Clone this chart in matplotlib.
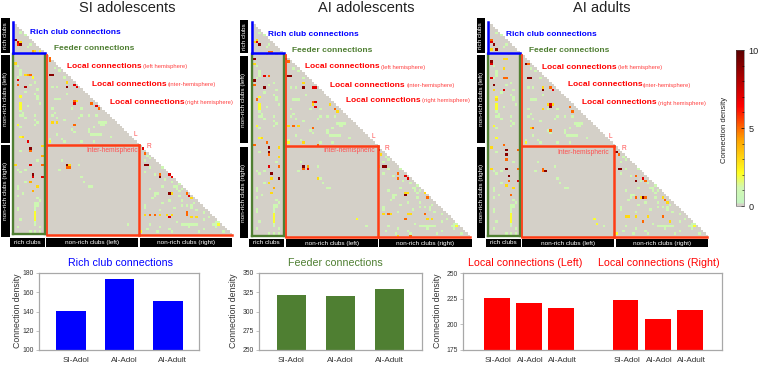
import matplotlib
matplotlib.use('Agg')
import matplotlib.pyplot as plt
import numpy as np
from matplotlib.colors import LinearSegmentedColormap, Normalize
from matplotlib.cm import ScalarMappable
from matplotlib.patches import Rectangle
from matplotlib.transforms import ScaledTranslation

plt.rcParams['font.family'] = ['Liberation Sans', 'DejaVu Sans']

W, H = 760, 365
N = 90
RICH = 13
LEFT_END = 52

# bar data
groups = ['SI-Adol', 'AI-Adol', 'AI-Adult']
rich_vals = [141, 174, 151]
feeder_vals = [322, 320, 329]
local_left_vals = [226, 221, 216]
local_right_vals = [223.5, 205, 214]

# matrix cells, (row, col, density)
light_cells = [
    (4, 3, 1), (5, 5, 1), (10, 6, 1), (9, 7, 1), (18, 2, 1), (29, 5, 1), (39, 9, 1), (39, 3, 1),
    (32, 10, 1), (34, 11, 1), (31, 3, 2), (34, 3, 2), (43, 2, 1), (43, 9, 1), (19, 17, 1), (20, 19, 1),
    (23, 21, 1), (27, 16, 1), (27, 18, 1), (32, 17, 1), (32, 18, 1), (32, 19, 1), (36, 16, 1), (36, 28, 1),
    (39, 28, 1), (39, 31, 1), (39, 34, 1), (42, 35, 1), (42, 38, 1), (47, 18, 1), (50, 21, 1), (50, 15, 2),
    (45, 31, 1), (47, 35, 1), (47, 36, 1), (48, 40, 1), (50, 28, 1), (50, 33, 1), (57, 56, 1), (61, 56, 1),
    (69, 67, 1), (69, 66, 1), (67, 65, 1), (72, 58, 1), (69, 61, 1), (77, 71, 1), (77, 73, 1), (77, 69, 1),
    (77, 54, 1), (76, 61, 1), (75, 64, 1), (85, 56, 1), (85, 69, 1), (85, 73, 1), (85, 75, 1), (87, 78, 1),
    (85, 82, 1), (85, 84, 2), (88, 59, 1), (88, 65, 1), (88, 86, 1), (88, 52, 2), (88, 76, 1), (76, 9, 1),
    (76, 10, 1), (80, 9, 2), (83, 9, 2), (86, 11, 1), (79, 2, 1), (83, 3, 1), (88, 7, 1), (88, 9, 1),
    (88, 11, 1), (67, 5, 1), (73, 2, 1), (48, 3, 2), (43, 2, 2), (58, 20, 1), (62, 19, 1), (60, 27, 1),
    (67, 29, 1), (69, 31, 1), (69, 32, 1), (65, 28, 1), (85, 47, 1), (26, 7, 1), (35, 6, 1), (22, 3, 1),
    (54, 3, 1), (58, 10, 1), (62, 2, 1), (72, 4, 1), (30, 22, 1), (36, 24, 1), (40, 27, 1), (44, 33, 1),
    (61, 61, 1), (64, 58, 1), (70, 56, 1), (73, 68, 1), (80, 78, 1), (82, 80, 1), (86, 60, 1), (56, 55, 1),
    (77, 9, 1), (78, 9, 1), (79, 9, 1), (81, 9, 2), (82, 9, 2), (84, 9, 1), (85, 9, 1), (77, 10, 1),
    (85, 70, 1), (85, 71, 1), (85, 72, 1), (85, 74, 1), (84, 83, 1), (85, 83, 1), (84, 84, 1), (86, 83, 1),
    (42, 36, 1), (42, 37, 1), (43, 36, 1), (43, 37, 1), (47, 32, 1), (47, 33, 1), (47, 34, 1), (46, 31, 1),
    (68, 68, 1), (70, 69, 1), (70, 67, 1), (71, 68, 1), (72, 59, 1), (73, 58, 1), (74, 57, 1), (78, 54, 1),
    (35, 3, 2), (36, 3, 2), (37, 3, 1), (38, 4, 1), (39, 4, 1), (40, 5, 1), (41, 9, 1), (42, 10, 1),
    (20, 3, 1), (21, 3, 1), (23, 2, 1), (25, 9, 1), (28, 10, 1), (30, 9, 1), (31, 10, 1), (44, 3, 1),
    (38, 17, 1), (39, 16, 1), (40, 18, 1), (41, 21, 1), (45, 24, 1), (46, 25, 1), (49, 20, 1), (49, 15, 1),
    (54, 58, 1), (58, 54, 1), (63, 54, 1), (66, 62, 1), (79, 60, 1), (78, 66, 1), (83, 78, 1), (76, 74, 1),
    (75, 69, 1), (74, 76, 1), (78, 73, 1), (79, 75, 1), (86, 72, 1), (87, 64, 1), (87, 55, 1), (84, 67, 1),
    (62, 5, 1), (63, 3, 1), (69, 2, 1), (70, 2, 1), (74, 10, 1), (75, 11, 1), (78, 2, 1), (86, 2, 1),
]
hot_si_adol = [
    (7, 1, 9), (8, 2, 7), (9, 3, 9), (9, 2, 6), (8, 3, 3), (12, 8, 4), (12, 9, 3), (12, 11, 2),
    (24, 2, 7), (26, 2, 5), (27, 5, 8), (22, 5, 3), (22, 7, 5), (22, 6, 4), (23, 8, 2), (17, 1, 3),
    (15, 15, 5), (16, 15, 5), (22, 15, 9), (22, 16, 9), (27, 22, 9), (25, 22, 3), (26, 25, 7), (27, 26, 7),
    (33, 25, 5), (33, 26, 3), (34, 25, 7), (35, 34, 7), (34, 32, 5), (36, 35, 5), (42, 16, 3), (42, 18, 3),
    (43, 25, 5), (60, 22, 9), (60, 23, 3), (61, 22, 5), (61, 23, 5), (53, 7, 9), (54, 7, 5), (50, 6, 7),
    (48, 4, 3), (60, 7, 7), (60, 12, 5), (64, 8, 9), (65, 8, 7), (65, 12, 7), (67, 7, 4), (69, 10, 3),
    (71, 8, 4), (60, 1, 3), (52, 12, 3), (56, 12, 4), (53, 53, 7), (55, 54, 5), (60, 54, 9), (60, 55, 9),
    (64, 60, 5), (65, 60, 9), (64, 64, 7), (65, 65, 7), (72, 64, 9), (72, 65, 3), (73, 72, 7), (72, 71, 5),
    (74, 73, 3), (81, 54, 3), (81, 56, 5), (81, 58, 5), (81, 60, 3), (81, 63, 3), (81, 65, 3), (80, 71, 5),
    (81, 71, 5), (82, 73, 3), (82, 75, 3), (82, 64, 7),
]
hot_ai_adol = [
    (8, 1, 3), (8, 2, 7), (9, 3, 9), (7, 2, 3), (12, 7, 5), (12, 8, 5), (13, 10, 3), (13, 6, 3),
    (15, 14, 9), (16, 15, 5), (22, 15, 9), (22, 16, 9), (15, 1, 9), (17, 1, 3), (22, 5, 7), (22, 7, 5),
    (24, 1, 9), (26, 1, 5), (27, 5, 9), (27, 21, 9), (25, 21, 3), (27, 25, 7), (27, 26, 7), (33, 25, 5),
    (33, 26, 7), (34, 25, 3), (35, 26, 7), (34, 32, 3), (36, 34, 5), (37, 35, 3), (32, 2, 5), (43, 15, 3),
    (43, 17, 5), (43, 19, 3), (44, 25, 5), (52, 7, 9), (54, 7, 9), (55, 7, 5), (50, 6, 5), (48, 4, 3),
    (51, 1, 5), (60, 7, 7), (60, 11, 5), (63, 8, 9), (65, 8, 3), (65, 11, 9), (67, 7, 3), (69, 9, 4),
    (71, 8, 3), (52, 11, 3), (56, 11, 3), (60, 21, 9), (60, 23, 4), (61, 21, 5), (61, 23, 7), (82, 43, 2),
    (65, 27, 3), (53, 52, 9), (55, 53, 3), (60, 52, 3), (60, 54, 9), (60, 55, 9), (63, 60, 5), (65, 60, 5),
    (64, 63, 7), (65, 64, 7), (72, 63, 9), (71, 63, 3), (71, 64, 3), (71, 71, 3), (73, 72, 5), (80, 56, 5),
    (80, 57, 3), (80, 54, 3), (82, 63, 5), (80, 64, 3), (80, 65, 3), (80, 71, 5), (82, 72, 3), (82, 74, 3),
    (89, 65, 5), (89, 60, 3), (51, 27, 5), (50, 21, 3),
]
hot_ai_adult = [
    (7, 1, 5), (8, 1, 7), (9, 2, 9), (11, 3, 9), (11, 1, 3), (13, 8, 3), (17, 15, 9), (17, 16, 5),
    (23, 16, 9), (23, 17, 9), (16, 1, 9), (17, 1, 7), (23, 1, 7), (23, 6, 5), (23, 7, 5), (26, 2, 9),
    (28, 2, 3), (28, 6, 7), (28, 22, 9), (27, 22, 3), (27, 25, 5), (28, 26, 7), (34, 25, 7), (35, 25, 9),
    (34, 24, 3), (34, 26, 3), (35, 33, 5), (37, 34, 5), (44, 17, 3), (44, 18, 5), (45, 25, 5), (36, 22, 3),
    (32, 3, 3), (15, 6, 3), (15, 7, 3), (19, 6, 3), (51, 6, 5), (53, 7, 9), (55, 7, 9), (57, 7, 5),
    (52, 1, 3), (53, 12, 5), (61, 7, 9), (61, 12, 5), (64, 8, 9), (66, 8, 5), (66, 12, 7), (68, 7, 3),
    (69, 10, 3), (72, 9, 5), (61, 1, 3), (61, 22, 5), (62, 23, 9), (62, 22, 5), (82, 43, 2), (84, 44, 2),
    (54, 52, 9), (55, 53, 5), (61, 53, 9), (61, 54, 9), (64, 60, 5), (66, 60, 9), (65, 63, 7), (66, 64, 5),
    (73, 63, 9), (73, 64, 5), (73, 62, 3), (73, 60, 5), (73, 71, 3), (74, 72, 5), (75, 73, 3), (81, 56, 3),
    (81, 57, 3), (81, 60, 3), (83, 63, 5), (81, 65, 3), (81, 71, 5), (83, 74, 3),
]

panel_cells = [hot_si_adol, hot_ai_adol, hot_ai_adult]
titles = ['SI adolescents', 'AI adolescents', 'AI adults']

# pixel layout of each matrix panel
panels = [
    dict(x0=12, x1=232, y0=22, y1=235, title=127, strip=(1, 10), ymid=(18, 53, 55, 143, 145, 237), boxes=((10, 45), (46, 138), (140, 232)), by=(238, 247),
         rich=(30.5, 33), feeder=(54, 48), ll=(67, 66, 143), li=(92.5, 84, 168), lr=(109.5, 102, 185), L=(135, 135), R=(149, 146.5), inter=(138, 150)),
    dict(x0=251, x1=470, y0=22, y1=237, title=366, strip=(240, 248), ymid=(20, 53, 56, 143, 147, 238), boxes=((249, 284), (286, 378), (379, 472)), by=(239, 247),
         rich=(268, 34), feeder=(292, 50), ll=(305, 67, 380.7), li=(330.5, 85.5, 406.7), lr=(346, 100, 422), L=(373, 137), R=(387, 148), inter=(375, 150.5)),
    dict(x0=487.5, x1=707, y0=22, y1=237, title=602, strip=(477, 485), ymid=(18, 53, 55, 143, 147, 238), boxes=((486, 521), (522, 614), (616, 708)), by=(239, 247),
         rich=(505.7, 34.5), feeder=(529, 50), ll=(542, 67.5, 617.7), li=(567.5, 85, 643), lr=(582, 103, 658), L=(610.7, 137), R=(624, 148), inter=(609, 152)),
]

cmap = LinearSegmentedColormap.from_list('density', [
    (0.0, '#d4d0c8'), (0.012, '#d4d0c8'), (0.02, '#c4f5c0'), (0.12, '#d2f8b0'), (0.21, '#ffff20'),
    (0.42, '#ffa500'), (0.64, '#ff0000'), (1.0, '#5a0000')])
norm = Normalize(0, 10)


def px_axes(x0, y0, x1, y1):
    return plt.gcf().add_axes([x0 / W, 1 - y1 / H, (x1 - x0) / W, (y1 - y0) / H])


def build_matrix(cells):
    m = np.zeros((N, N))
    for r, c, v in light_cells + cells:
        m[r, c] = max(m[r, c], v)
    mask = np.triu(np.ones((N, N), dtype=bool), 1)
    return np.ma.array(m, mask=mask)


def draw_matrix(p, cells):
    ax = px_axes(p['x0'], p['y0'], p['x1'], p['y1'])
    ax.imshow(build_matrix(cells), cmap=cmap, norm=norm, interpolation='nearest', aspect='auto',
              extent=(0, N, N, 0))
    ax.axis('off')
    kw = dict(clip_on=False, solid_capstyle='projecting')
    green = '#4f7f32'
    ax.plot([RICH + 0.4, RICH + 0.4], [RICH + 0.5, N - 0.4], color=green, lw=1.7, **kw)
    ax.plot([0.4, 0.4], [RICH + 0.5, N - 0.4], color=green, lw=1.7, **kw)
    ax.plot([0.4, RICH + 0.4], [N - 0.4, N - 0.4], color=green, lw=1.7, **kw)
    ax.plot([0.4, 0.4], [0, RICH], color='#0000ff', lw=1.8, **kw)
    ax.plot([0.4, RICH + 0.4], [RICH, RICH], color='#0000ff', lw=1.8, **kw)
    red = '#ff3c14'
    ax.plot([RICH + 1.2, RICH + 1.2], [RICH + 1, N], color=red, lw=1.3, **kw)
    ax.plot([RICH + 1.2, LEFT_END], [LEFT_END, LEFT_END], color=red, lw=1.8, **kw)
    ax.plot([LEFT_END, LEFT_END], [LEFT_END, N], color=red, lw=1.8, **kw)
    ax.plot([RICH + 1.2, N], [N, N], color=red, lw=1.8, **kw)


def bar_panel(x0, x1, positions, values, colors, xlim, width, ylim, step, label_shift):
    ax = px_axes(x0, 273, x1, 350)
    ax.bar(positions, values, width=width, color=colors, edgecolor='none')
    ax.set_xlim(*xlim)
    ax.set_ylim(*ylim)
    ax.set_yticks(np.arange(ylim[0], ylim[1] + 1, step))
    ax.set_xticks(positions)
    ax.set_xticklabels(groups * (len(positions) // 3), fontsize=5.9, color='#333333')
    ax.tick_params(axis='y', labelsize=4.9, labelcolor='#333333', length=2, width=0.5, color='#aaaaaa', pad=1.5)
    ax.tick_params(axis='x', length=0, pad=5)
    for s in ax.spines.values():
        s.set_color('#a8a8a8')
        s.set_linewidth(0.9)
    offset = ScaledTranslation(label_shift / 100, 0, plt.gcf().dpi_scale_trans)
    for t in ax.get_xticklabels():
        t.set_transform(t.get_transform() + offset)
    return ax


fig = plt.figure(figsize=(W / 100, H / 100), dpi=100)

for p, cells in zip(panels, panel_cells):
    draw_matrix(p, cells)

# colour bar
cax = px_axes(736, 50, 744, 206)
cb = fig.colorbar(ScalarMappable(norm=norm, cmap=cmap), cax=cax)
cb.set_ticks([0, 5, 10])
cb.ax.set_yticks(np.arange(0, 11), minor=True)
cb.ax.tick_params(which='major', labelsize=6.6, length=2, width=0.5, pad=3, labelcolor='#222222', direction='in')
cb.ax.tick_params(which='minor', length=1.5, width=0.4, direction='in')
cb.outline.set_linewidth(0.4)
cb.outline.set_edgecolor('#555555')

# bar charts
bar_panel(39, 199, range(3), rich_vals, '#0000ff', (-0.66, 2.64), 0.6, (100, 180), 20, 4.5)
bar_panel(259, 421.7, range(3), feeder_vals, '#4f7f32', (-0.66, 2.66), 0.6, (250, 350), 25, 0)
bar_panel(463, 722, [0, 1, 2, 4, 5, 6], local_left_vals + local_right_vals, '#ff0000', (-1.05, 7), 0.8, (175, 250), 25, 1.5)

# overlay in pixel coordinates for labels
ov = fig.add_axes([0, 0, 1, 1])
ov.set_xlim(0, W)
ov.set_ylim(H, 0)
ov.axis('off')


def black_box(x0, y0, x1, y1, text, rot):
    ov.add_patch(Rectangle((x0, y0), x1 - x0, y1 - y0, color='black', lw=0))
    ov.text((x0 + x1) / 2, (y0 + y1) / 2, text, color='white', fontsize=4.6, rotation=rot, ha='center', va='center')


for p, title in zip(panels, titles):
    ov.text(p['title'], 7.5, title, fontsize=10.5, color='#222222', ha='center', va='center')
    a, b = p['strip']
    ym = p['ymid']
    black_box(a, ym[0], b, ym[1], 'rich clubs', 90)
    black_box(a, ym[2], b, ym[3], 'non-rich clubs (left)', 90)
    black_box(a, ym[4], b, ym[5], 'non-rich clubs (right)', 90)
    for (bx0, bx1), txt in zip(p['boxes'], ['rich clubs', 'non-rich clubs (left)', 'non-rich clubs (right)']):
        black_box(bx0, p['by'][0], bx1, p['by'][1], txt, 0)
    ov.text(p['rich'][0], p['rich'][1], 'Rich club connections', color='#0000ff', fontsize=6, fontweight='bold', va='center')
    ov.text(p['feeder'][0], p['feeder'][1], 'Feeder connections', color='#4f7f32', fontsize=6, fontweight='bold', va='center')
    for key, small in [('ll', '(left hemisphere)'), ('li', '(inter-hemisphere)'), ('lr', '(right hemisphere)')]:
        x, y, sx = p[key]
        ov.text(x, y, 'Local connections', color='#ff0000', fontsize=6, fontweight='bold', va='center')
        ov.text(sx, y + 0.5, small, color='#ff4040', fontsize=4.2, va='center')
    ov.text(p['L'][0], p['L'][1], 'L', color='#ff5050', fontsize=4.8, ha='center', va='center')
    ov.text(p['R'][0], p['R'][1], 'R', color='#ff5050', fontsize=4.8, ha='center', va='center')
    ov.text(p['inter'][0], p['inter'][1], 'Inter-hemispheric', color='#ff5050', fontsize=4.8, ha='right', va='center')

ov.text(725, 130, 'Connection density', rotation=90, fontsize=5.6, color='#222222', ha='center', va='center')

for x in [18, 234, 438]:
    ov.text(x, 311, 'Connection density', rotation=90, fontsize=6.3, color='#333333', ha='center', va='center')

ov.text(120.7, 263.5, 'Rich club connections', color='#0000ff', fontsize=7.7, ha='center', va='center')
ov.text(335, 263.5, 'Feeder connections', color='#4f7f32', fontsize=7.7, ha='center', va='center')
ov.text(525, 263.5, 'Local connections (Left)', color='#ff0000', fontsize=7.7, ha='center', va='center')
ov.text(659, 263.5, 'Local connections (Right)', color='#ff0000', fontsize=7.7, ha='center', va='center')

fig.savefig('out.png', dpi=100)
